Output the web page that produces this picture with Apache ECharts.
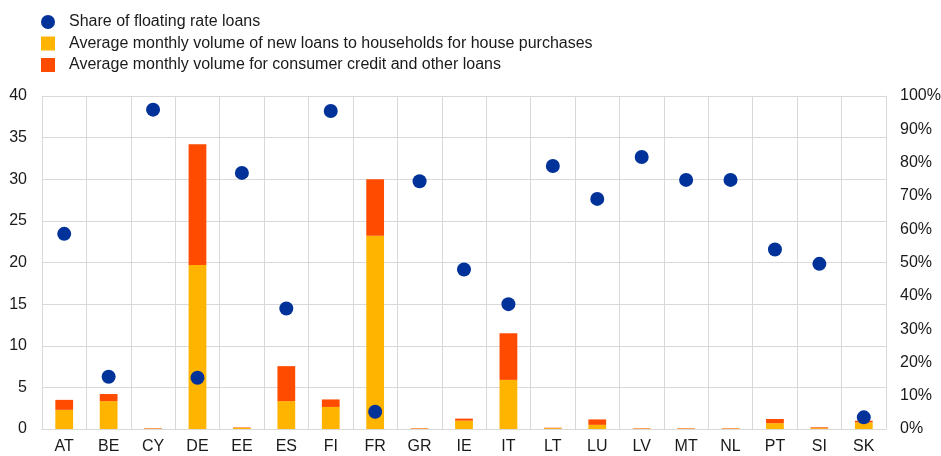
<!DOCTYPE html>
<html lang="en">
<head>
    <meta charset="UTF-8">
    <script src="https://cdn.jsdelivr.net/npm/echarts@6/dist/echarts.min.js"></script>
    <title>Loans and floating rate share</title>
    <style>
        html, body { margin: 0; padding: 0; background: #fff; }
        #chart { width: 941px; height: 456px; }
    </style>
</head>
<body>
    <div id="chart"></div>
    <script>
        // data
        const countries = ['AT', 'BE', 'CY', 'DE', 'EE', 'ES', 'FI', 'FR', 'GR', 'IE', 'IT', 'LT', 'LU', 'LV', 'MT', 'NL', 'PT', 'SI', 'SK'];
        const housePurchase = [2.3, 3.35, 0.05, 19.7, 0.15, 3.35, 2.65, 23.2, 0.05, 1.0, 5.9, 0.1, 0.5, 0.05, 0.05, 0.05, 0.7, 0.1, 0.8];
        const consumerOther = [1.2, 0.85, 0.05, 14.5, 0.05, 4.2, 0.9, 6.8, 0.05, 0.25, 5.6, 0.05, 0.65, 0.05, 0.05, 0.05, 0.5, 0.1, 0.2];
        const floatingShare = [58.6, 15.7, 95.9, 15.4, 76.9, 36.2, 95.5, 5.2, 74.4, 47.9, 37.5, 79.0, 69.1, 81.7, 74.8, 74.8, 53.9, 49.6, 3.5];

        const names = [
            'Share of floating rate loans',
            'Average monthly volume of new loans to households for house purchases',
            'Average monthly volume for consumer credit and other loans'
        ];
        const gridColor = '#d9d9d9';
        const textColor = '#1a1a1a';
        const font = 'Liberation Sans, Arial, sans-serif';

        const chart = echarts.init(document.getElementById('chart'), null, { renderer: 'canvas' });
        chart.setOption({
            animation: false,
            textStyle: { fontFamily: font },
            legend: {
                orient: 'vertical',
                left: 36,
                top: 9,
                itemGap: 5.5,
                itemWidth: 14,
                itemHeight: 14,
                textStyle: { fontSize: 16, color: textColor, fontFamily: font, padding: [0, 0, 0, 9] },
                data: [
                    { name: names[0], icon: 'circle' },
                    { name: names[1], icon: 'rect' },
                    { name: names[2], icon: 'rect' }
                ]
            },
            grid: { left: 42, right: 55, top: 96, bottom: 27, outerBoundsMode: 'none' },
            xAxis: {
                type: 'category',
                data: countries,
                axisLine: { lineStyle: { color: gridColor } },
                axisTick: { show: false },
                splitLine: { show: true, lineStyle: { color: gridColor } },
                axisLabel: { color: textColor, fontSize: 16, margin: 10, fontFamily: font }
            },
            yAxis: [{
                type: 'value',
                min: 0, max: 40, interval: 5,
                axisLine: { show: true, lineStyle: { color: gridColor } },
                splitLine: { lineStyle: { color: gridColor } },
                axisLabel: { color: textColor, fontSize: 16, margin: 15, fontFamily: font }
            }, {
                type: 'value',
                min: 0, max: 100, interval: 10,
                position: 'right',
                axisLine: { show: true, lineStyle: { color: gridColor } },
                splitLine: { show: false },
                axisLabel: { color: textColor, fontSize: 16, margin: 14, formatter: '{value}%', fontFamily: font }
            }],
            series: [{
                name: names[1],
                type: 'bar',
                stack: 'loans',
                barWidth: '40%',
                itemStyle: { color: '#ffb400' },
                data: housePurchase
            }, {
                name: names[2],
                type: 'bar',
                stack: 'loans',
                barWidth: '40%',
                itemStyle: { color: '#ff4b00' },
                data: consumerOther
            }, {
                name: names[0],
                type: 'scatter',
                yAxisIndex: 1,
                symbolSize: 14,
                z: 5,
                itemStyle: { color: '#003299', opacity: 1 },
                data: floatingShare
            }]
        });
    </script>
</body>
</html>
